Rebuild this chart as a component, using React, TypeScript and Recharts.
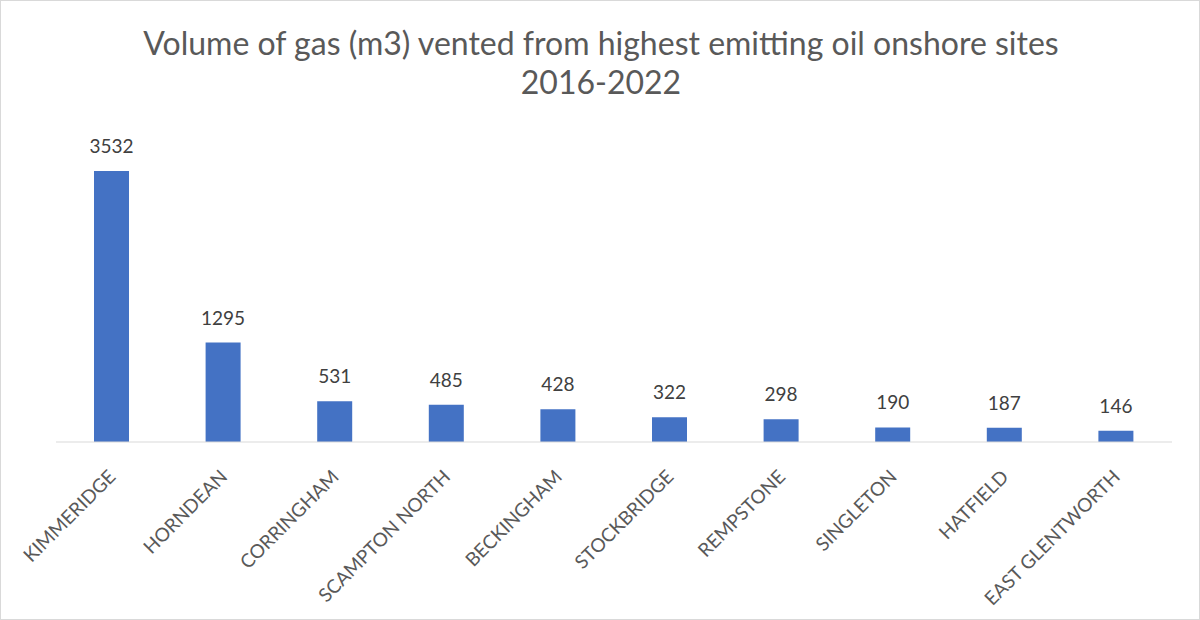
import React from "react";
import { BarChart, Bar, XAxis, YAxis, LabelList } from "recharts";

const sites = [
  "KIMMERIDGE",
  "HORNDEAN",
  "CORRINGHAM",
  "SCAMPTON NORTH",
  "BECKINGHAM",
  "STOCKBRIDGE",
  "REMPSTONE",
  "SINGLETON",
  "HATFIELD",
  "EAST GLENTWORTH",
];
const volumes = [3532, 1295, 531, 485, 428, 322, 298, 190, 187, 146];
const titleLines = [
  "Volume of gas (m3) vented from highest emitting oil onshore sites",
  "2016-2022",
];

const data = sites.map((site, i) => ({ site, volume: volumes[i] }));

const FONT = "Lato, 'Open Sans', sans-serif";

const Tick = (props: any) => {
  const { x, y, payload } = props;
  return (
    <g transform={`translate(${x + 5},${y + 28})`}>
      <text
        textAnchor="end"
        transform="rotate(-45)"
        fill="#595959"
        fontSize={19}
        fontFamily={FONT}
      >
        {payload.value}
      </text>
    </g>
  );
};

export default function App() {
  return (
    <div
      style={{
        position: "absolute",
        left: 0,
        top: 0,
        width: 1200,
        height: 620,
        background: "#fff",
        boxSizing: "border-box",
        border: "1px solid #d9d9d9",
      }}
    >
      <div
        style={{
          position: "absolute",
          left: 0,
          top: 22,
          width: 1200,
          textAlign: "center",
          fontFamily: FONT,
          fontSize: 32,
          lineHeight: "39px",
          color: "#595959",
        }}
      >
        {titleLines.map((t) => (
          <div key={t}>{t}</div>
        ))}
      </div>
      <div style={{ position: "absolute", left: -1, top: -1 }}>
        <BarChart
          width={1200}
          height={620}
          data={data}
          margin={{ top: 135, right: 28, bottom: 0, left: 56 }}
        >
          <XAxis
            dataKey="site"
            interval={0}
            height={178}
            tickLine={false}
            axisLine={{ stroke: "#d9d9d9", strokeWidth: 1 }}
            tick={<Tick />}
          />
          <YAxis hide domain={[0, 4000]} width={0} />
          <Bar
            dataKey="volume"
            fill="#4472C4"
            barSize={35}
            isAnimationActive={false}
          >
            <LabelList
              dataKey="volume"
              position="top"
              offset={18}
              fill="#404040"
              fontSize={19}
              fontFamily={FONT}
            />
          </Bar>
        </BarChart>
      </div>
    </div>
  );
}
